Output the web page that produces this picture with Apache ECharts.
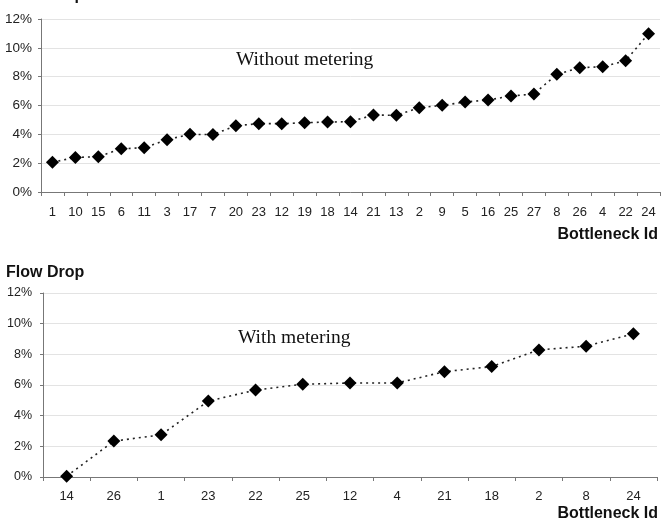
<!DOCTYPE html>
<html>
<head>
<meta charset="utf-8">
<script src="https://cdn.jsdelivr.net/npm/echarts@6/dist/echarts.min.js"></script>
<style>html,body{margin:0;padding:0;background:#fff;}#c{width:666px;height:524px;}</style>
</head>
<body>
<div id="c"></div>
<script>
const topCategories = ['1','10','15','6','11','3','17','7','20','23','12','19','18','14','21','13','2','9','5','16','25','27','8','26','4','22','24'];
const topValues = [2.06,2.4,2.45,3.0,3.07,3.63,4.0,3.98,4.6,4.74,4.74,4.81,4.85,4.88,5.34,5.32,5.85,6.01,6.24,6.38,6.66,6.8,8.16,8.62,8.69,9.1,10.98];
const bottomCategories = ['14','26','1','23','22','25','12','4','21','18','2','8','24'];
const bottomValues = [0.05,2.34,2.75,4.95,5.67,6.05,6.13,6.13,6.87,7.2,8.29,8.53,9.34];
const yTicks = [0,2,4,6,8,10,12];
const topLabel = 'Without metering';
const bottomLabel = 'With metering';

const chart = echarts.init(document.getElementById('c'));
const axisColor = '#777';
function lf(size){ return {color:'#222', fontFamily:'Liberation Sans, Arial, sans-serif', fontSize:size}; }
function xAx(idx, cats, margin){
  return {type:'category', gridIndex:idx, data:cats, boundaryGap:true,
    axisLine:{lineStyle:{color:axisColor,width:1}},
    axisTick:{show:true,length:4,lineStyle:{color:axisColor}},
    axisLabel:Object.assign({margin:margin, interval:0}, lf(13)),
    splitLine:{show:false}};
}
function yAx(idx, margin, size){
  return {type:'value', gridIndex:idx, min:yTicks[0], max:yTicks[yTicks.length-1], interval:2,
    axisLine:{show:true,lineStyle:{color:axisColor,width:1}},
    axisTick:{show:true,length:3,lineStyle:{color:axisColor}},
    axisLabel:Object.assign({margin:margin, formatter:'{value}%'}, lf(size)),
    splitLine:{show:true,lineStyle:{color:'#e3e3e3',width:1}}};
}
function ser(idx, vals){
  return {type:'line', xAxisIndex:idx, yAxisIndex:idx, data:vals,
    symbol:'diamond', symbolSize:[13,13], showSymbol:true,
    itemStyle:{color:'#000'},
    lineStyle:{color:'#222', width:1.6, type:[2,4]},
    animation:false, z:3};
}
const boldFont = 'bold 16px Liberation Sans, Arial, sans-serif';
const serifFont = '19.5px Liberation Serif, Times New Roman, serif';
chart.setOption({
  animation:false,
  grid:[
    {left:41, right:6, top:19, height:173, containLabel:false},
    {left:43, right:9, top:293, height:184, containLabel:false}
  ],
  xAxis:[xAx(0, topCategories, 14), xAx(1, bottomCategories, 13)],
  yAxis:[yAx(0, 9, 13.5), yAx(1, 11, 12.5)],
  series:[ser(0, topValues), ser(1, bottomValues)],
  graphic:[
    {type:'text', left:6, top:-12, style:{text:'Flow Drop', font:boldFont, fill:'#111'}},
    {type:'text', left:6, top:265, style:{text:'Flow Drop', font:boldFont, fill:'#111'}},
    {type:'text', right:8, top:227, style:{text:'Bottleneck Id', font:boldFont, fill:'#111'}},
    {type:'text', right:8, top:506, style:{text:'Bottleneck Id', font:boldFont, fill:'#111'}},
    {type:'text', left:236, top:50, style:{text:topLabel, font:serifFont, fill:'#111'}},
    {type:'text', left:238, top:328, style:{text:bottomLabel, font:serifFont, fill:'#111'}}
  ]
});
</script>
</body>
</html>
